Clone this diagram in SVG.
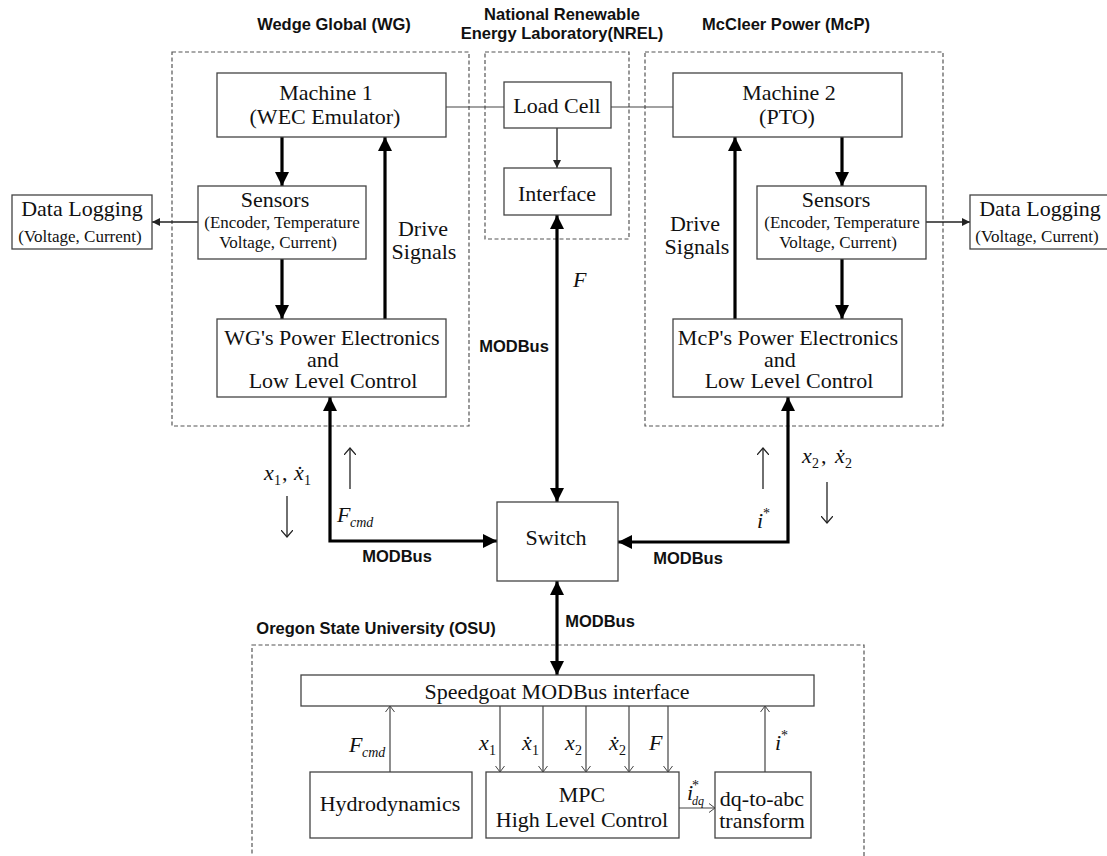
<svg xmlns="http://www.w3.org/2000/svg" width="1107" height="856" viewBox="0 0 1107 856">
<style>
.bg{fill:#fff}
.box{fill:#fff;stroke:#444;stroke-width:1.3}
.dash{fill:none;stroke:#555;stroke-width:1.2;stroke-dasharray:4 2.5}
.t{font-family:"Liberation Serif","Times New Roman",serif;font-size:22px;fill:#111;text-anchor:middle}
.ts{font-size:17px}
.m{font-family:"Liberation Serif","Times New Roman",serif;font-size:22px;fill:#111}
.i{font-style:italic}
.h{font-family:"Liberation Sans",Arial,sans-serif;font-weight:bold;font-size:16.5px;fill:#111;text-anchor:middle}
.thick{stroke:#000;stroke-width:3.2;fill:none}
.thin{stroke:#444;stroke-width:1.2;fill:none}
.thinb{stroke:#222;stroke-width:1.3;fill:none}
</style>
<defs>
<marker id="big" markerUnits="userSpaceOnUse" markerWidth="15" markerHeight="15" refX="14" refY="7" orient="auto-start-reverse"><path d="M0,0 L14,7 L0,14 Z" fill="#000"/></marker>
<marker id="small" markerUnits="userSpaceOnUse" markerWidth="9" markerHeight="9" refX="8" refY="4" orient="auto-start-reverse"><path d="M0,0 L8,4 L0,8 Z" fill="#222"/></marker>
<marker id="vee" markerUnits="userSpaceOnUse" markerWidth="10" markerHeight="12" refX="7" refY="6" orient="auto"><path d="M0,0 L7,6 L0,12" fill="none" stroke="#222" stroke-width="1.2"/></marker>
<marker id="veeS" markerUnits="userSpaceOnUse" markerWidth="8" markerHeight="10" refX="6" refY="5" orient="auto"><path d="M0,0.5 L6,5 L0,9.5" fill="none" stroke="#444" stroke-width="1"/></marker>
</defs>
<rect class="bg" x="0" y="0" width="1107" height="856"/>

<g id="headings">
<text class="h" x="334" y="30">Wedge Global (WG)</text>
<text class="h" x="562" y="20">National Renewable</text>
<text class="h" x="562" y="39">Energy Laboratory(NREL)</text>
<text class="h" x="786" y="30">McCleer Power (McP)</text>
<text class="h" x="376" y="634">Oregon State University (OSU)</text>
</g>

<g id="groups">
<rect class="dash" x="172" y="52" width="297" height="374"/>
<rect class="dash" x="485" y="52" width="144" height="187"/>
<rect class="dash" x="645" y="52" width="298" height="374"/>
<rect class="dash" x="252" y="645" width="612" height="230"/>
</g>

<g id="connectors">
<path class="thin" d="M446,107 L504,107"/>
<path class="thin" d="M611,107 L673,107"/>
<path class="thinb" d="M557,128 L557,168" marker-end="url(#small)"/>
<path class="thinb" d="M198,222 L152,222" marker-end="url(#small)"/>
<path class="thinb" d="M926,222 L970,222" marker-end="url(#small)"/>
<path class="thick" d="M282,137 L282,186" marker-end="url(#big)"/>
<path class="thick" d="M282,259 L282,319" marker-end="url(#big)"/>
<path class="thick" d="M385,319 L385,137" marker-end="url(#big)"/>
<path class="thick" d="M842,137 L842,186" marker-end="url(#big)"/>
<path class="thick" d="M842,259 L842,319" marker-end="url(#big)"/>
<path class="thick" d="M735,319 L735,137" marker-end="url(#big)"/>
<path class="thick" d="M330,397 L330,541 L497,541" marker-start="url(#big)" marker-end="url(#big)"/>
<path class="thick" d="M788,397 L788,542 L618,542" marker-start="url(#big)" marker-end="url(#big)"/>
<path class="thick" d="M557,215 L557,502" marker-start="url(#big)" marker-end="url(#big)"/>
<path class="thick" d="M557,581 L557,675" marker-start="url(#big)" marker-end="url(#big)"/>
<path class="thinb" d="M350,489 L350,448" marker-end="url(#vee)"/>
<path class="thinb" d="M287,496 L287,537" marker-end="url(#vee)"/>
<path class="thinb" d="M763,489 L763,448" marker-end="url(#vee)"/>
<path class="thinb" d="M827,482 L827,523" marker-end="url(#vee)"/>
<path class="thin" d="M390,772 L390,706" marker-end="url(#veeS)"/>
<path class="thin" d="M500,706 L500,772" marker-end="url(#veeS)"/>
<path class="thin" d="M543,706 L543,772" marker-end="url(#veeS)"/>
<path class="thin" d="M586,706 L586,772" marker-end="url(#veeS)"/>
<path class="thin" d="M629,706 L629,772" marker-end="url(#veeS)"/>
<path class="thin" d="M668,706 L668,772" marker-end="url(#veeS)"/>
<path class="thin" d="M765,772 L765,706" marker-end="url(#veeS)"/>
<path class="thin" d="M679,808 L715,808" marker-end="url(#veeS)"/>
</g>

<g id="labels">
<text class="t" x="423" y="236">Drive</text>
<text class="t" x="424" y="259">Signals</text>
<text class="t" x="695" y="231">Drive</text>
<text class="t" x="697" y="254">Signals</text>
<text class="h" x="514" y="352">MODBus</text>
<text class="h" x="397" y="562">MODBus</text>
<text class="h" x="688" y="564">MODBus</text>
<text class="h" x="600" y="627">MODBus</text>
<text class="m i" x="573" y="287">F</text>
<text class="m"><tspan class="i" x="337" y="522">F</tspan><tspan class="i" x="350" y="527" font-size="14">cmd</tspan></text>
<text class="m"><tspan class="i" x="264" y="480">x</tspan><tspan x="274" y="485" font-size="14">1</tspan><tspan x="282" y="480">,</tspan><tspan class="i" x="294" y="480">x</tspan><tspan x="304" y="485" font-size="14">1</tspan><tspan x="296.3" y="481">˙</tspan></text>
<text class="m"><tspan class="i" x="757" y="528">i</tspan><tspan x="763" y="518" font-size="14">*</tspan></text>
<text class="m"><tspan class="i" x="802" y="463">x</tspan><tspan x="812" y="468" font-size="14">2</tspan><tspan x="821" y="463">,</tspan><tspan class="i" x="835" y="463">x</tspan><tspan x="845" y="468" font-size="14">2</tspan><tspan x="837.3" y="464">˙</tspan></text>
<text class="m"><tspan class="i" x="349" y="752">F</tspan><tspan class="i" x="362" y="757" font-size="14">cmd</tspan></text>
<text class="m"><tspan class="i" x="479" y="750">x</tspan><tspan x="489" y="755" font-size="14">1</tspan></text>
<text class="m"><tspan class="i" x="522" y="750">x</tspan><tspan x="532" y="755" font-size="14">1</tspan><tspan x="524.3" y="751">˙</tspan></text>
<text class="m"><tspan class="i" x="565" y="750">x</tspan><tspan x="575" y="755" font-size="14">2</tspan></text>
<text class="m"><tspan class="i" x="609" y="750">x</tspan><tspan x="619" y="755" font-size="14">2</tspan><tspan x="611.3" y="751">˙</tspan></text>
<text class="m i" x="649" y="750">F</text>
<text class="m"><tspan class="i" x="775" y="750">i</tspan><tspan x="781" y="740" font-size="14">*</tspan></text>
<text class="m"><tspan class="i" x="687" y="800">i</tspan><tspan x="692" y="790" font-size="14">*</tspan><tspan class="i" x="692" y="805" font-size="12">dq</tspan></text>
</g>

<g id="machine1"><rect class="box" x="217" y="73" width="229" height="64"/><text class="t" x="326" y="100">Machine 1</text><text class="t" x="325" y="124">(WEC Emulator)</text></g>
<g id="loadcell"><rect class="box" x="504" y="82" width="107" height="46"/><text class="t" x="557" y="113">Load Cell</text></g>
<g id="interface"><rect class="box" x="504" y="168" width="107" height="47"/><text class="t" x="557" y="201">Interface</text></g>
<g id="machine2"><rect class="box" x="673" y="73" width="229" height="64"/><text class="t" x="789" y="100">Machine 2</text><text class="t" x="787" y="124">(PTO)</text></g>
<g id="sensors1"><rect class="box" x="198" y="186" width="168" height="73"/><text class="t" x="275" y="207">Sensors</text><text class="t ts" x="282" y="228">(Encoder, Temperature</text><text class="t ts" x="278" y="248">Voltage, Current)</text></g>
<g id="sensors2"><rect class="box" x="757" y="186" width="169" height="73"/><text class="t" x="836" y="207">Sensors</text><text class="t ts" x="842" y="228">(Encoder, Temperature</text><text class="t ts" x="838" y="248">Voltage, Current)</text></g>
<g id="datalog1"><rect class="box" x="12" y="195" width="140" height="54"/><text class="t" x="82" y="216">Data Logging</text><text class="t ts" x="80" y="242">(Voltage, Current)</text></g>
<g id="datalog2"><rect class="box" x="970" y="195" width="145" height="54"/><text class="t" x="1040" y="216">Data Logging</text><text class="t ts" x="1037" y="242">(Voltage, Current)</text></g>
<g id="pe1"><rect class="box" x="217" y="319" width="229" height="78"/><text class="t" x="332" y="345">WG's Power Electronics</text><text class="t" x="323" y="367">and</text><text class="t" x="333" y="388">Low Level Control</text></g>
<g id="pe2"><rect class="box" x="673" y="319" width="229" height="78"/><text class="t" x="788" y="345">McP's Power Electronics</text><text class="t" x="780" y="367">and</text><text class="t" x="789" y="388">Low Level Control</text></g>
<g id="switch"><rect class="box" x="497" y="502" width="121" height="79"/><text class="t" x="556" y="545">Switch</text></g>
<g id="speedgoat"><rect class="box" x="301" y="675" width="513" height="31"/><text class="t" x="557" y="699">Speedgoat MODBus interface</text></g>
<g id="hydro"><rect class="box" x="310" y="772" width="162" height="66"/><text class="t" x="390" y="811">Hydrodynamics</text></g>
<g id="mpc"><rect class="box" x="486" y="772" width="193" height="66"/><text class="t" x="582" y="802">MPC</text><text class="t" x="582" y="827">High Level Control</text></g>
<g id="dqabc"><rect class="box" x="715" y="772" width="96" height="66"/><text class="t" x="762" y="806">dq-to-abc</text><text class="t" x="762" y="828">transform</text></g>
</svg>
